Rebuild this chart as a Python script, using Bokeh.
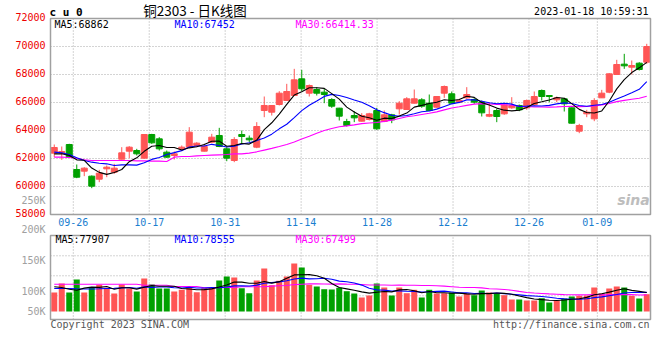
import numpy as np
import pandas as pd
from bokeh.plotting import figure
from bokeh.models import Range1d
from bokeh.core.properties import value
from bokeh.embed import file_html
from bokeh.resources import INLINE

# ---------------- data ----------------
date_tick_index = [3, 13, 23, 33, 43, 53, 63, 72]
date_tick_labels = ["09-26", "10-17", "10-31", "11-14", "11-28", "12-12", "12-26", "01-09"]

opens = [62381, 62404, 63000, 61214, 61095, 60738, 60524, 61262, 61024, 61952,
         62524, 62571, 62023, 63714, 63404, 62452, 62214, 62690, 62809, 62928,
         62524, 63166, 63643, 62690, 61857, 63714, 63452, 62809, 65428, 65309,
         65857, 66143, 66500, 67690, 66666, 66928, 66738, 66214, 65595, 64642,
         65071, 64666, 64785, 65428, 64642, 65119, 65547, 65500, 65952, 66190,
         65952, 65666, 66666, 66619, 66024, 66333, 66214, 66024, 65023, 65428,
         65190, 65619, 65786, 65619, 65857, 66857, 66500, 66190, 66262, 65619,
         63952, 65190, 64833, 66333, 66738, 68000, 68738, 68523, 68809, 68880]
highs = [63000, 62857, 63050, 61571, 61380, 60790, 61190, 61500, 61619, 62809,
         62881, 62690, 63740, 63762, 63524, 62571, 62500, 62928, 64238, 63166,
         63047, 63762, 64190, 62809, 63524, 64000, 63643, 64595, 66428, 65800,
         66809, 67333, 68404, 68333, 67285, 67095, 66976, 66309, 65620, 64833,
         65381, 65238, 65262, 65619, 65428, 65190, 66095, 66380, 66928, 66309,
         66571, 66450, 67214, 66785, 66262, 67095, 66309, 66143, 66024, 65547,
         65904, 66380, 65857, 66214, 66785, 66928, 66500, 66428, 66333, 65640,
         64476, 65476, 66309, 66904, 68095, 69047, 69476, 69000, 68880, 70190]
lows = [62095, 61905, 62050, 60595, 60738, 59880, 60310, 60666, 60905, 61930,
        62023, 62214, 61990, 63047, 62571, 62047, 61928, 62571, 62780, 62809,
        62500, 63095, 62809, 61809, 61738, 63095, 63166, 62738, 64952, 65071,
        65786, 66120, 66480, 66809, 66428, 66500, 65952, 65619, 64714, 64285,
        64595, 64642, 64714, 64047, 64595, 64523, 65143, 65480, 65930, 65619,
        65380, 65619, 66333, 65930, 65952, 66262, 65904, 65000, 64952, 64595,
        65119, 65547, 65380, 65476, 65786, 66143, 66024, 66024, 65357, 64500,
        63809, 64952, 64666, 66333, 66666, 67980, 68404, 68000, 68285, 68761]
closes = [62785, 62500, 62095, 60666, 61310, 60023, 60952, 61381, 61310, 62404,
          62809, 62333, 63714, 63119, 62690, 62095, 62333, 62809, 63881, 63095,
          62857, 63524, 62857, 62023, 63357, 63571, 63333, 64285, 65786, 65786,
          66666, 66785, 67619, 66976, 67214, 66666, 66571, 65738, 65023, 64357,
          64904, 65071, 65190, 64119, 65119, 64761, 65952, 66262, 66262, 65738,
          65428, 66428, 67142, 65952, 66143, 66571, 66024, 65262, 65142, 65000,
          65833, 65786, 65476, 66143, 66428, 66428, 66428, 66333, 65904, 64523,
          64357, 65309, 66143, 66666, 68047, 68714, 68619, 68642, 68357, 70000]
volumes = [77900, 114800, 77900, 131200, 77900, 97200, 109500, 97200, 73800, 110700,
           94300, 82000, 135300, 110700, 94300, 94300, 82000, 89000, 102500, 79100,
           95500, 97200, 127100, 143500, 139400, 95500, 75000, 127100, 176300, 107800,
           125900, 143500, 196800, 180400, 109500, 102500, 91400, 90200, 97200, 83200,
           73800, 57400, 65600, 114800, 98400, 65600, 98400, 75000, 89000, 57400,
           89000, 73800, 75000, 77900, 61500, 73800, 66800, 86100, 77900, 73800,
           66800, 49200, 49200, 45100, 45100, 54500, 36900, 45100, 53300, 61500,
           64400, 65600, 98400, 73800, 94300, 102500, 98400, 64400, 53300, 70900]

# moving-average values read from the picture where the window is not yet full
price_ma5_head = [62333, 62333, 62214, 61905]
price_ma10_head = [62452, 62404, 62285, 62047, 61857, 61738, 61666, 61619, 61500]
price_ma30_head = [62095, 62095, 62071, 62024, 61905, 61857, 61857, 61857, 61857, 61857,
                   61857, 61833, 61833, 61809, 61809, 61786, 62095, 62143, 62143, 62190,
                   62214, 62238, 62262, 62286, 62333, 62333, 62381, 62476, 62600]
vol_ma5_head = [101300, 98400, 91400, 87300]
vol_ma10_head = [94300, 94300, 94300, 93000, 92500, 92500, 93000, 94000, 95000]
vol_ma30_head = [111900, 111900, 111900, 111900, 111900, 111900, 111900, 111900, 111900, 111900,
                 111900, 111900, 107800, 107800, 107800, 107800, 102500, 102500, 102500, 102500,
                 97200, 97200, 98400, 98400, 98400, 101300, 101300, 101300, 101300]

price_ticks = [58000, 60000, 62000, 64000, 66000, 68000, 70000, 72000]
price_tick_labels = ["58000", "60000", "62000", "64000", "66000", "68000", "70000", "72000"]
vol_tick_labels = ["200K", "150K", "100K", "50K"]
vol_grid_values = [64400, 146400, 228400]

price_ma_texts = ["MA5:68862", "MA10:67452", "MA30:66414.33"]
vol_ma_texts = ["MA5:77907", "MA10:78555", "MA30:67499"]

# ---------------- derived ----------------
N = len(closes)
idx = np.arange(N)
o = np.array(opens, float); c = np.array(closes, float)
h = np.array(highs, float); l = np.array(lows, float)
v = np.array(volumes, float)
up = c >= o
RED, GREEN = "#FF5555", "#00A000"
colors = [RED if u else GREEN for u in up]


def moving_avg(series, n, head):
    s = pd.Series(series).rolling(n).mean().to_numpy()
    s[:n - 1] = head
    return s


pma5 = moving_avg(c, 5, price_ma5_head)
pma10 = moving_avg(c, 10, price_ma10_head)
pma30 = moving_avg(c, 30, price_ma30_head)
vma5 = moving_avg(v, 5, vol_ma5_head)
vma10 = moving_avg(v, 10, vol_ma10_head)
vma30 = moving_avg(v, 30, vol_ma30_head)

grid_x = [i * N / (N - 1) - 0.5 for i in date_tick_index]

# ---------------- layout helpers (canvas pixels -> data units) ----------------
W, H = 652, 340
PLOT_L, PLOT_R = 50, 650          # panel box, pixels
PRICE_TOP, PRICE_BOT = 18, 214
VOL_TOP, VOL_BOT, VOL_BASE = 235, 319, 311
PX_PER_SLOT = (PLOT_R - PLOT_L) / N
PRICE_PER_PX = (price_ticks[-1] - price_ticks[0]) / (PRICE_BOT - PRICE_TOP)
VOL_PER_PX = 4100


def xd(px):
    return (px - PLOT_L) / PX_PER_SLOT - 0.5


def yp(py):
    return price_ticks[-1] - (py - PRICE_TOP) * PRICE_PER_PX


def yv(py):
    return (VOL_BASE - py) * VOL_PER_PX


MONO = "DejaVu Sans Mono"
GRID = "#A8A8A8"
BORDER = "#A0A0A0"

p = figure(width=W, height=H, x_range=Range1d(xd(0), xd(W)), y_range=Range1d(yp(H), yp(0)),
           output_backend="svg", toolbar_location=None, x_axis_type=None, y_axis_type=None,
           min_border=0)
p.extra_y_ranges = {"vol": Range1d(yv(H), yv(0))}
p.outline_line_color = None
p.background_fill_color = "white"
p.border_fill_color = "white"


def text(xs, ys, labels, color, size="10px", font=MONO, align="left", style="normal",
         rng="default", y_offset=0):
    p.text(x=xs, y=ys, text=labels, text_color=color, text_font=value(font),
           text_font_size=size, text_align=align, text_baseline="middle",
           text_font_style=style, y_range_name=rng, y_offset=y_offset)


x_left, x_right = -0.5, N - 0.5

# ---------------- grids ----------------
p.segment(x0=grid_x, y0=price_ticks[0], x1=grid_x, y1=price_ticks[-1],
          line_color=GRID, line_dash="1 2", line_width=1)
p.segment(x0=x_left, y0=price_ticks[1:-1], x1=x_right, y1=price_ticks[1:-1],
          line_color=GRID, line_dash="1 2", line_width=1)
p.segment(x0=grid_x, y0=yv(VOL_BOT), x1=grid_x, y1=yv(VOL_TOP),
          line_color=GRID, line_dash="1 2", line_width=1, y_range_name="vol")
p.segment(x0=x_left, y0=vol_grid_values, x1=x_right, y1=vol_grid_values,
          line_color=GRID, line_dash="1 2", line_width=1, y_range_name="vol")

# ---------------- candles ----------------
p.segment(x0=idx, y0=l, x1=idx, y1=h, line_color=colors, line_width=1)
p.vbar(x=idx, width=0.8, top=np.maximum(o, c), bottom=np.minimum(o, c),
       fill_color=colors, line_color=colors, line_width=1)
p.line(idx, pma30, line_color="#FF00FF", line_width=1.1)
p.line(idx, pma10, line_color="#0000FF", line_width=1.1)
p.line(idx, pma5, line_color="#000000", line_width=1.1)

# ---------------- volume ----------------
p.vbar(x=idx, width=0.8, top=v, bottom=0, fill_color=colors, line_color=None,
       y_range_name="vol")
p.line(idx, vma30, line_color="#FF00FF", line_width=1.1, y_range_name="vol")
p.line(idx, vma10, line_color="#0000FF", line_width=1.1, y_range_name="vol")
p.line(idx, vma5, line_color="#000000", line_width=1.1, y_range_name="vol")

# ---------------- panel borders ----------------
p.quad(left=x_left, right=x_right, bottom=price_ticks[0], top=price_ticks[-1],
       fill_color=None, line_color=BORDER, line_width=1.5)
p.quad(left=x_left, right=x_right, bottom=yv(VOL_BOT), top=yv(VOL_TOP),
       fill_color=None, line_color=BORDER, line_width=1.5, y_range_name="vol")

# ---------------- axis texts ----------------
text([xd(45)] * len(price_ticks), price_ticks, price_tick_labels, "#EE0000",
     align="right", y_offset=-2)
text(grid_x, [price_ticks[0]] * len(grid_x), date_tick_labels, "#1A7ECF",
     align="center", y_offset=7)
text([xd(45)] * 4, [yv(229.3), yv(260.3), yv(291), yv(311.3)], vol_tick_labels, "#A0A0A0",
     align="right", rng="vol")
text([xd(45)], [yp(200)], ["250K"], "#A0A0A0", align="right")

# ---------------- header / legend texts ----------------
text([xd(49)], [yp(11.7)], ["c u 0"], "#000000", size="11px", style="bold")
text([xd(194.5)], [yp(9.5)], ["铜2303 - 日K线图"], "#000000", size="13.5px",
     font="Noto Sans CJK SC", align="center")
text([xd(648)], [yp(11)], ["2023-01-18 10:59:31"], "#000000", align="right")
text([xd(54), xd(174), xd(295)], [yp(23.5)] * 3, price_ma_texts,
     ["#000000", "#0000FF", "#FF00FF"])
text([xd(55), xd(174), xd(295)], [yv(238.5)] * 3, vol_ma_texts,
     ["#000000", "#0000FF", "#FF00FF"], rng="vol")
text([xd(633)], [yp(199)], ["sina"], "#BDBDBD", size="14px", font="DejaVu Sans",
     align="center", style="bold italic")
text([xd(50)], [yv(323.5)], ["Copyright 2023 SINA.COM"], "#555555", rng="vol")
text([xd(649)], [yv(323.5)], ["http://finance.sina.com.cn"], "#555555", align="right",
     rng="vol")

open("out.html", "w").write(file_html(p, INLINE))
